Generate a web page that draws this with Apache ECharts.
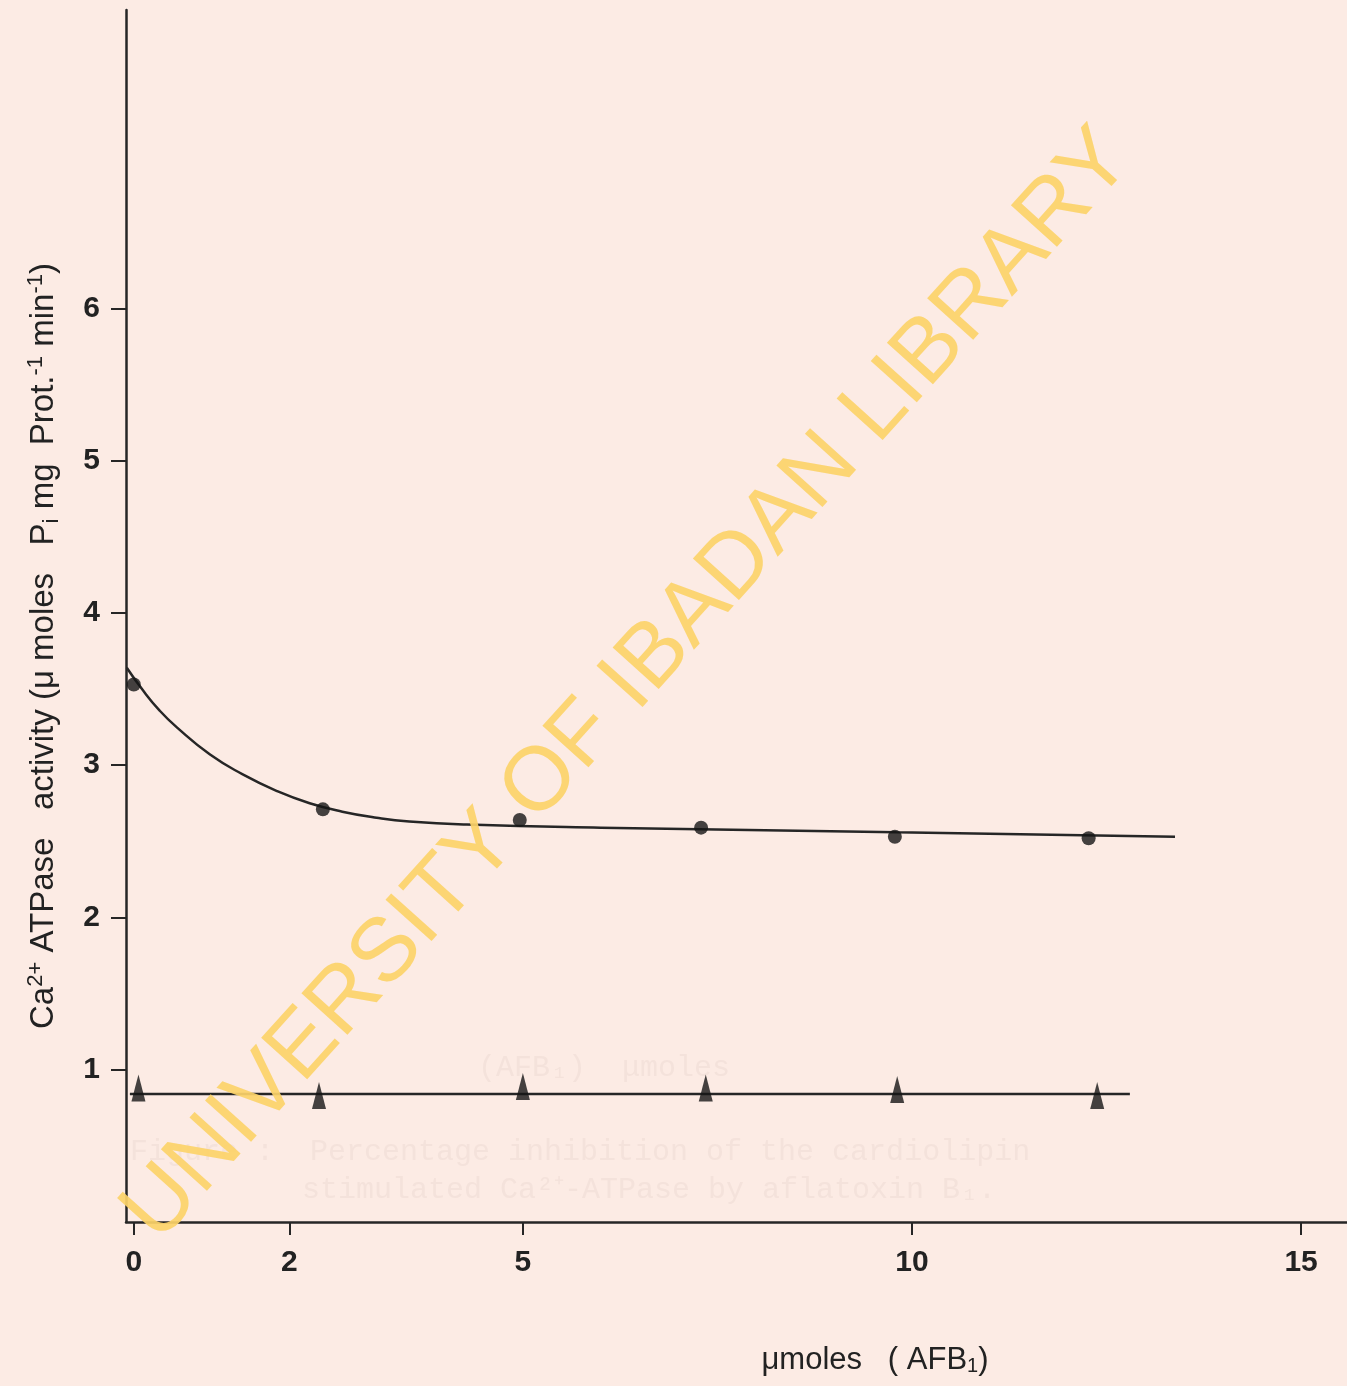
<!DOCTYPE html>
<html>
<head>
<meta charset="utf-8">
<title>Ca2+ ATPase activity vs AFB1</title>
<script src="https://cdn.jsdelivr.net/npm/echarts@6/dist/echarts.min.js"></script>
<style>
  html, body { margin: 0; padding: 0; background: #fcebe4; }
  #chart { width: 1347px; height: 1386px; }
</style>
</head>
<body>
<div id="chart"></div>
<script>
// x tick labels shown on the axis
var xTicks = [0, 2, 5, 10, 15];
var yTicks = [1, 2, 3, 4, 5, 6];

// measured points (filled circles)
var circleX = [0, 2.43, 4.96, 7.29, 9.78, 12.27];
var circleY = [3.53, 2.71, 2.64, 2.59, 2.53, 2.52];

// measured points (filled triangles)
var triX = [0.06, 2.38, 5.0, 7.35, 9.81, 12.38];
var triY = [0.88, 0.83, 0.89, 0.88, 0.87, 0.83];

// hand drawn curve through the circles
var curveX = [-0.09, 0.12, 0.33, 0.55, 0.98, 1.40, 1.84, 2.26, 2.68, 3.12, 3.54, 4.28, 6.0, 9.8, 13.38];
var curveY = [3.64, 3.49, 3.36, 3.25, 3.07, 2.94, 2.83, 2.75, 2.695, 2.655, 2.63, 2.61, 2.59, 2.56, 2.53];

// flat line through the triangles
var flatX = [-0.05, 12.8];
var flatY = [0.84, 0.84];

function pairs(xs, ys) {
  return xs.map(function (x, i) { return [x, ys[i]]; });
}

var ink = '#262626';
var ghost = '#f4e2db';
var chart = echarts.init(document.getElementById('chart'));

var option = {
  backgroundColor: '#fcebe4',
  animation: false,
  grid: { left: 126, right: 0, top: 10, bottom: 164, containLabel: false },
  xAxis: {
    type: 'value',
    min: -0.1,
    max: 15.59,
    splitLine: { show: false },
    axisLine: { onZero: false, lineStyle: { color: ink, width: 2.5 } },
    axisTick: { length: 13, lineStyle: { color: ink, width: 2 }, customValues: xTicks },
    axisLabel: {
      customValues: xTicks,
      margin: 26,
      color: '#222',
      fontSize: 30,
      fontWeight: 'bold',
      fontFamily: 'Liberation Sans'
    }
  },
  yAxis: {
    type: 'value',
    min: 0,
    max: 7.96,
    splitLine: { show: false },
    axisLine: { onZero: false, lineStyle: { color: ink, width: 2.5 } },
    axisTick: { length: 15, lineStyle: { color: ink, width: 2 }, customValues: yTicks },
    axisLabel: {
      customValues: yTicks,
      margin: 26,
      color: '#222',
      fontSize: 30,
      fontWeight: 'bold',
      fontFamily: 'Liberation Sans'
    }
  },
  graphic: [
    {
      type: 'text',
      x: 628, y: 686,
      rotation: 48 * Math.PI / 180,
      z: 100,
      style: {
        text: 'UNIVERSITY OF IBADAN LIBRARY',
        fill: 'rgba(252, 210, 105, 0.92)',
        font: '90px "Liberation Sans"',
        align: 'center',
        verticalAlign: 'middle'
      }
    },
    // faint show-through from the other side of the page
    {
      type: 'text', x: 478, y: 1068, z: 1,
      style: { text: '(AFB\u2081)  \u03bcmoles', fill: ghost, font: '30px "Liberation Mono"', verticalAlign: 'middle' }
    },
    {
      type: 'text', x: 130, y: 1152, z: 1,
      style: { text: 'Figure :  Percentage inhibition of the cardiolipin', fill: ghost, font: '30px "Liberation Mono"', verticalAlign: 'middle' }
    },
    {
      type: 'text', x: 302, y: 1190, z: 1,
      style: { text: 'stimulated Ca\u00b2\u207a-ATPase by aflatoxin B\u2081.', fill: ghost, font: '30px "Liberation Mono"', verticalAlign: 'middle' }
    },
    // y axis title
    {
      type: 'text',
      x: 44, y: 646,
      rotation: Math.PI / 2,
      style: {
        text: 'Ca{sup|2+} ATPase   activity (\u03bc moles   P{sub|i} mg  Prot.{sup|-1} min{sup|-1})',
        fill: '#222',
        font: '33px "Liberation Sans"',
        align: 'center',
        verticalAlign: 'middle',
        rich: {
          sup: { fontSize: 22, verticalAlign: 'top', padding: [0, 0, 16, 0], fill: '#222', fontFamily: 'Liberation Sans' },
          sub: { fontSize: 22, verticalAlign: 'bottom', padding: [12, 0, 0, 0], fill: '#222', fontFamily: 'Liberation Sans' }
        }
      }
    },
    // x axis title
    {
      type: 'text',
      x: 875, y: 1360,
      style: {
        text: '\u03bcmoles   ( AFB{sub|1})',
        fill: '#222',
        font: '31px "Liberation Sans"',
        align: 'center',
        verticalAlign: 'middle',
        rich: {
          sub: { fontSize: 20, verticalAlign: 'bottom', padding: [12, 0, 0, 0], fill: '#222', fontFamily: 'Liberation Sans' }
        }
      }
    }
  ],
  series: [
    {
      type: 'line',
      data: pairs(curveX, curveY),
      smooth: true,
      symbol: 'none',
      lineStyle: { color: ink, width: 2.5 },
      z: 3
    },
    {
      type: 'line',
      data: pairs(flatX, flatY),
      symbol: 'none',
      lineStyle: { color: ink, width: 2.5 },
      z: 3
    },
    {
      type: 'scatter',
      data: pairs(circleX, circleY),
      symbol: 'circle',
      symbolSize: 14,
      itemStyle: { color: '#151515' },
      z: 4
    },
    {
      type: 'scatter',
      data: pairs(triX, triY),
      symbol: 'triangle',
      symbolSize: [14, 27],
      itemStyle: { color: '#151515' },
      z: 4
    }
  ]
};

chart.setOption(option);
</script>
</body>
</html>
